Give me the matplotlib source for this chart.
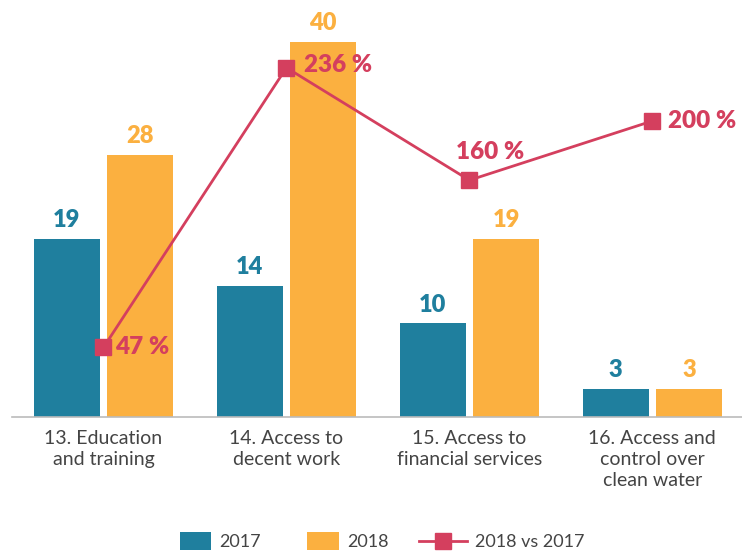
import matplotlib
matplotlib.use("Agg")
import matplotlib.pyplot as plt
from matplotlib.patches import Patch, Rectangle
from matplotlib.lines import Line2D
from matplotlib.legend_handler import HandlerBase
import numpy as np

categories = ["13. Education\nand training", "14. Access to\ndecent work",
              "15. Access to\nfinancial services", "16. Access and\ncontrol over\nclean water"]
v2017 = [19, 14, 10, 3]
v2018 = [28, 40, 19, 3]
pct = [47, 236, 160, 200]

C17 = "#1f7f9e"
C18 = "#fbb040"
CL = "#d43f5e"
GREY = "#444444"

plt.rcParams['font.family'] = ['Lato', 'DejaVu Sans']

W, H = 742, 551
fig = plt.figure(figsize=(W / 100, H / 100), dpi=100)
ax = fig.add_axes([12 / W, (H - 417) / H, 730 / W, (417 - 20) / H])
x = np.arange(len(categories))
bw = 0.36
off = 0.2
ax.bar(x - off, v2017, bw, color=C17)
ax.bar(x + off, v2018, bw, color=C18)
ax.set_xlim(-0.5, 3.49)
ax.set_ylim(0, 397 / 9.375)
for i in range(len(x)):
    ax.annotate(str(v2017[i]), (x[i] - off, v2017[i]), xytext=(0, 13.5), textcoords='offset points',
                ha='center', va='center', color=C17, fontsize=17, fontweight='heavy')
    ax.annotate(str(v2018[i]), (x[i] + off, v2018[i]), xytext=(0, 13.5), textcoords='offset points',
                ha='center', va='center', color=C18, fontsize=17, fontweight='heavy')
ax.set_xticks(x)
ax.set_xticklabels(categories, fontsize=14, color=GREY, linespacing=1.3)
ax.tick_params(axis='x', length=0, pad=9)
ax.set_yticks([])
for s in ['top', 'right', 'left']:
    ax.spines[s].set_visible(False)
ax.spines['bottom'].set_color('#bbbbbb')
ax.spines['bottom'].set_linewidth(1.2)

ax2 = ax.twinx()
ax2.set_ylim(0, 397 / 1.48)
ax2.plot(x, pct, color=CL, lw=2, marker='s', markersize=11.5)
ax2.axis('off')
ax2.set_xlim(-0.5, 3.49)
offsets = [(8, 0, 'left'), (13, 2, 'left'), (15, 20, 'center'), (11.5, 0, 'left')]
for i in range(len(x)):
    dx, dy, ha = offsets[i]
    ax2.annotate(f"{pct[i]} %", (x[i], pct[i]), xytext=(dx, dy), textcoords='offset points',
                 ha=ha, va='center', color=CL, fontsize=17.5, fontweight='heavy')


class HandlerBox(HandlerBase):
    def create_artists(self, legend, orig_handle, xdescent, ydescent, width, height, fontsize, trans):
        r = Rectangle((-xdescent, -ydescent), width, height, facecolor=orig_handle.get_facecolor(),
                      edgecolor='none', transform=trans)
        return [r]


class HandlerWideLine(HandlerBase):
    def create_artists(self, legend, orig_handle, xdescent, ydescent, width, height, fontsize, trans):
        extra = 11.5
        y = -ydescent + height / 2
        ln = Line2D([-xdescent - extra, -xdescent + width], [y, y], color=CL, lw=2, transform=trans)
        mk = Line2D([-xdescent + (width - extra) / 2], [y], color=CL, marker='s',
                    markersize=11.5, linestyle='none', transform=trans)
        return [ln, mk]


h17 = Patch(facecolor=C17)
h18 = Patch(facecolor=C18)
hl = Line2D([0], [0], color=CL)
fig.legend([h17, h18, hl], ["2017", "2018", "2018 vs 2017"], loc='center',
           bbox_to_anchor=(382 / W, 1 - 541 / H), ncol=3, frameon=False,
           fontsize=13, labelcolor=GREY, handlelength=1.77, handleheight=1.2,
           columnspacing=2.55, handletextpad=0.45,
           handler_map={h17: HandlerBox(), h18: HandlerBox(), hl: HandlerWideLine()})

fig.savefig("out.png", dpi=100)
